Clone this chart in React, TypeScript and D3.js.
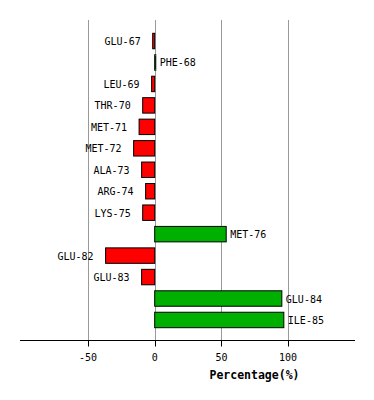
import React from "react";
import * as d3 from "d3";

const residues = ["GLU-67","PHE-68","LEU-69","THR-70","MET-71","MET-72","ALA-73","ARG-74","LYS-75","MET-76","GLU-82","GLU-83","GLU-84","ILE-85"];
const percentages = [-1.5, 0.8, -2.3, -9, -11.7, -15.8, -9.8, -6.8, -9, 53.6, -36.8, -9.8, 95.3, 96.8];
const tickValues = [-50, 0, 50, 100];
const xDomain = [-100, 150];
const axisTitle = "Percentage(%)";

export default function App() {
  const W = 374, H = 400;
  const x = d3.scaleLinear().domain(xDomain).range([21.3, 354.8]);
  const y = d3.scaleBand<string>().domain(residues).range([30.3, 330.7]).paddingInner(0.28).paddingOuter(0.14);
  const axisY = 340.5;
  const font = "'DejaVu Sans Mono', monospace";
  return (
    <svg width={W} height={H} style={{ position: "absolute", left: 0, top: 0 }}>
      <rect width={W} height={H} fill="#fff" />
      {tickValues.map((t) => (
        <line key={"g" + t} x1={Math.round(x(t)) + 0.5} x2={Math.round(x(t)) + 0.5} y1={20} y2={axisY} stroke="#999" strokeWidth={1} />
      ))}
      {residues.map((r, i) => {
        const v = percentages[i];
        const x0 = x(Math.min(0, v));
        const x1 = x(Math.max(0, v));
        const yy = y(r)!;
        const bh = y.bandwidth();
        const cy = yy + bh / 2;
        return (
          <g key={r}>
            <rect x={x0} y={yy} width={Math.max(0.5, x1 - x0)} height={bh} fill={v < 0 ? "#ff0000" : "#00b000"} stroke="#000" strokeWidth={1} />
            <text x={v < 0 ? x0 - 12 : x1 + 4} y={cy + 4} textAnchor={v < 0 ? "end" : "start"} fontFamily={font} fontSize={10} fill="#000">{r}</text>
          </g>
        );
      })}
      <line x1={20} x2={355} y1={axisY} y2={axisY} stroke="#000" strokeWidth={1} />
      {tickValues.map((t) => (
        <g key={"t" + t}>
          <line x1={Math.round(x(t)) + 0.5} x2={Math.round(x(t)) + 0.5} y1={axisY} y2={axisY + 6} stroke="#000" strokeWidth={1} />
          <text x={x(t)} y={361} textAnchor="middle" fontFamily={font} fontSize={10} fill="#000">{t}</text>
        </g>
      ))}
      <text x={254.5} y={378.5} textAnchor="middle" fontFamily={font} fontSize={11.5} fontWeight="bold" fill="#000">{axisTitle}</text>
    </svg>
  );
}
